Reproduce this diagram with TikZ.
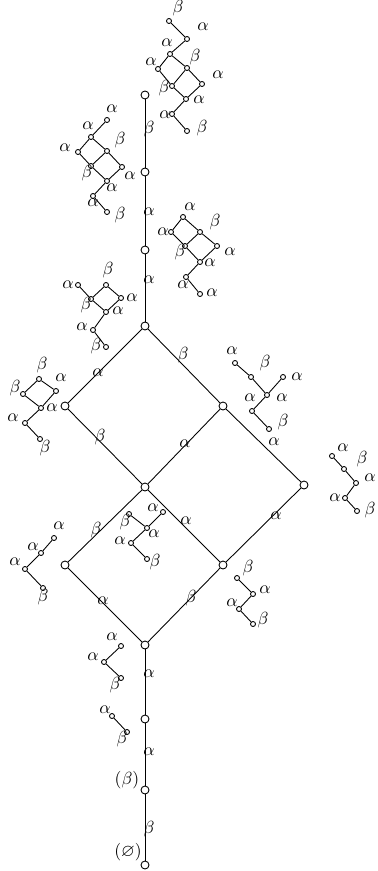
\documentclass[tikz,border=0pt]{standalone}
\usepackage{amssymb}
\usepackage{tikz}

\begin{document}
\begin{tikzpicture}[x = 0.02cm, y = -0.02cm, line width = 0.5pt,
  vertice/.style = {circle,draw,inner sep=0pt,minimum size=0.16cm},
  ponto/.style = {circle,draw,inner sep=0pt,minimum size=0.1cm},
  rotulo/.style = {inner sep=0pt,font=\normalsize},]

\useasboundingbox (0,0) rectangle (378,871);

% the lattice
\node[vertice] (Z) at (145,865) {};
\node[vertice] (B) at (145,790) {};
\node[vertice] (S2) at (145,719) {};
\node[vertice] (S3) at (145,645) {};
\node[vertice] (L1) at (65,565) {};
\node[vertice] (R1) at (223,565) {};
\node[vertice] (C) at (145,487) {};
\node[vertice] (F) at (304,485) {};
\node[vertice] (L2) at (65,406) {};
\node[vertice] (R2) at (223,406) {};
\node[vertice] (T) at (145,326) {};
\node[vertice] (U1) at (145,250) {};
\node[vertice] (U2) at (145,172) {};
\node[vertice] (U3) at (145,95) {};

\draw (Z) -- (B);
\draw (B) -- (S2);
\draw (S2) -- (S3);
\draw (S3) -- (L1);
\draw (S3) -- (R1);
\draw (L1) -- (C);
\draw (R1) -- (C);
\draw (R1) -- (F);
\draw (C) -- (L2);
\draw (C) -- (R2);
\draw (R2) -- (F);
\draw (L2) -- (T);
\draw (R2) -- (T);
\draw (T) -- (U1);
\draw (U1) -- (U2);
\draw (U2) -- (U3);

\node[rotulo] (nZ) at (128,852) {$(\varnothing)$};
\node[rotulo] (nB) at (127,780) {$(\beta)$};
\node[rotulo] (e1) at (149,829) {$\beta$};
\node[rotulo] (e2) at (149,752) {$\alpha$};
\node[rotulo] (e3) at (149,674) {$\alpha$};
\node[rotulo] (e4) at (103,601) {$\alpha$};
\node[rotulo] (e5) at (191,598) {$\beta$};
\node[rotulo] (e6) at (96,530) {$\beta$};
\node[rotulo] (e7) at (186,521) {$\alpha$};
\node[rotulo] (e8) at (276,516) {$\alpha$};
\node[rotulo] (e9) at (100,437) {$\beta$};
\node[rotulo] (e10) at (185,444) {$\alpha$};
\node[rotulo] (e11) at (274,442) {$\alpha$};
\node[rotulo] (e12) at (98,373) {$\alpha$};
\node[rotulo] (e13) at (183,355) {$\beta$};
\node[rotulo] (e14) at (149,280) {$\alpha$};
\node[rotulo] (e15) at (149,212) {$\alpha$};
\node[rotulo] (e16) at (149,129) {$\beta$};

% top module
\node[ponto] (a1) at (169,21) {};
\node[ponto] (a2) at (187,39) {};
\node[ponto] (a3) at (170,54) {};
\node[ponto] (a4) at (158,69) {};
\node[ponto] (a5) at (187,68) {};
\node[ponto] (a6) at (202,84) {};
\node[ponto] (a7) at (172,86) {};
\node[ponto] (a8) at (186,99) {};
\node[ponto] (a9) at (172,114) {};
\node[ponto] (a10) at (187,131) {};
\draw (a1) -- (a2);
\draw (a2) -- (a3);
\draw (a3) -- (a4);
\draw (a3) -- (a5);
\draw (a4) -- (a7);
\draw (a5) -- (a7);
\draw (a5) -- (a6);
\draw (a7) -- (a8);
\draw (a6) -- (a8);
\draw (a8) -- (a9);
\draw (a9) -- (a10);
\node[rotulo] (la1) at (178,8) {$\beta$};
\node[rotulo] (la2) at (203,27) {$\alpha$};
\node[rotulo] (la3) at (167,43) {$\alpha$};
\node[rotulo] (la4) at (151,62) {$\alpha$};
\node[rotulo] (la5) at (195,57) {$\beta$};
\node[rotulo] (la6) at (218,75) {$\alpha$};
\node[rotulo] (la7) at (164,88) {$\beta$};
\node[rotulo] (la8) at (199,100) {$\alpha$};
\node[rotulo] (la9) at (165,115) {$\alpha$};
\node[rotulo] (la10) at (202,128) {$\beta$};

% second module
\node[ponto] (b1) at (107,120) {};
\node[ponto] (b2) at (91,137) {};
\node[ponto] (b3) at (78,152) {};
\node[ponto] (b4) at (107,151) {};
\node[ponto] (b5) at (91,166) {};
\node[ponto] (b6) at (122,167) {};
\node[ponto] (b7) at (107,181) {};
\node[ponto] (b8) at (93,196) {};
\node[ponto] (b9) at (107,212) {};
\draw (b1) -- (b2);
\draw (b2) -- (b3);
\draw (b2) -- (b4);
\draw (b3) -- (b5);
\draw (b4) -- (b5);
\draw (b4) -- (b6);
\draw (b5) -- (b7);
\draw (b6) -- (b7);
\draw (b7) -- (b8);
\draw (b8) -- (b9);
\node[rotulo] (lb1) at (112,109) {$\alpha$};
\node[rotulo] (lb2) at (88,126) {$\alpha$};
\node[rotulo] (lb3) at (65,148) {$\alpha$};
\node[rotulo] (lb4) at (120,140) {$\beta$};
\node[rotulo] (lb5) at (87,173) {$\beta$};
\node[rotulo] (lb6) at (130,176) {$\alpha$};
\node[rotulo] (lb7) at (112,188) {$\alpha$};
\node[rotulo] (lb8) at (93,203) {$\alpha$};
\node[rotulo] (lb9) at (120,215) {$\beta$};

% third module
\node[ponto] (c1) at (183,217) {};
\node[ponto] (c2) at (171,232) {};
\node[ponto] (c3) at (200,232) {};
\node[ponto] (c4) at (185,246) {};
\node[ponto] (c5) at (217,246) {};
\node[ponto] (c6) at (200,262) {};
\node[ponto] (c7) at (186,277) {};
\node[ponto] (c8) at (200,294) {};
\draw (c1) -- (c2);
\draw (c1) -- (c3);
\draw (c2) -- (c4);
\draw (c3) -- (c4);
\draw (c3) -- (c5);
\draw (c4) -- (c6);
\draw (c5) -- (c6);
\draw (c6) -- (c7);
\draw (c7) -- (c8);
\node[rotulo] (lc1) at (190,207) {$\alpha$};
\node[rotulo] (lc2) at (163,232) {$\alpha$};
\node[rotulo] (lc3) at (215,222) {$\beta$};
\node[rotulo] (lc4) at (180,252) {$\beta$};
\node[rotulo] (lc5) at (230,252) {$\alpha$};
\node[rotulo] (lc6) at (210,263) {$\alpha$};
\node[rotulo] (lc7) at (183,285) {$\alpha$};
\node[rotulo] (lc8) at (212,293) {$\alpha$};

% fourth module
\node[ponto] (d1) at (78,285) {};
\node[ponto] (d2) at (106,285) {};
\node[ponto] (d3) at (91,299) {};
\node[ponto] (d4) at (121,298) {};
\node[ponto] (d5) at (106,312) {};
\node[ponto] (d6) at (93,330) {};
\node[ponto] (d7) at (106,347) {};
\draw (d1) -- (d3);
\draw (d2) -- (d3);
\draw (d2) -- (d4);
\draw (d3) -- (d5);
\draw (d4) -- (d5);
\draw (d5) -- (d6);
\draw (d6) -- (d7);
\node[rotulo] (ld1) at (68,285) {$\alpha$};
\node[rotulo] (ld2) at (108,270) {$\beta$};
\node[rotulo] (ld3) at (86,305) {$\beta$};
\node[rotulo] (ld4) at (132,298) {$\alpha$};
\node[rotulo] (ld5) at (118,311) {$\alpha$};
\node[rotulo] (ld6) at (82,327) {$\alpha$};
\node[rotulo] (ld7) at (96,346) {$\beta$};

% left module
\node[ponto] (g1) at (39,379) {};
\node[ponto] (g2) at (23,394) {};
\node[ponto] (g3) at (56,391) {};
\node[ponto] (g4) at (41,408) {};
\node[ponto] (g5) at (25,423) {};
\node[ponto] (g6) at (40,439) {};
\draw (g1) -- (g2);
\draw (g1) -- (g3);
\draw (g2) -- (g4);
\draw (g3) -- (g4);
\draw (g4) -- (g5);
\draw (g5) -- (g6);
\node[rotulo] (lg1) at (42,365) {$\beta$};
\node[rotulo] (lg2) at (15,388) {$\beta$};
\node[rotulo] (lg3) at (61,378) {$\alpha$};
\node[rotulo] (lg4) at (52,408) {$\alpha$};
\node[rotulo] (lg5) at (13,418) {$\alpha$};
\node[rotulo] (lg6) at (45,448) {$\beta$};

% right upper module
\node[ponto] (f1) at (235,363) {};
\node[ponto] (f2) at (251,377) {};
\node[ponto] (f3) at (283,377) {};
\node[ponto] (f4) at (267,395) {};
\node[ponto] (f5) at (252,411) {};
\node[ponto] (f6) at (269,429) {};
\draw (f1) -- (f2);
\draw (f2) -- (f4);
\draw (f3) -- (f4);
\draw (f4) -- (f5);
\draw (f5) -- (f6);
\node[rotulo] (lf1) at (232,351) {$\alpha$};
\node[rotulo] (lf2) at (265,363) {$\beta$};
\node[rotulo] (lf3) at (297,377) {$\alpha$};
\node[rotulo] (lf4) at (282,398) {$\alpha$};
\node[rotulo] (lf5) at (250,398) {$\alpha$};
\node[rotulo] (lf6) at (283,422) {$\beta$};

% far right module
\node[ponto] (h1) at (332,456) {};
\node[ponto] (h2) at (344,469) {};
\node[ponto] (h3) at (356,483) {};
\node[ponto] (h4) at (345,498) {};
\node[ponto] (h5) at (357,511) {};
\draw (h1) -- (h2);
\draw (h2) -- (h3);
\draw (h3) -- (h4);
\draw (h4) -- (h5);
\node[rotulo] (lh1) at (343,448) {$\alpha$};
\node[rotulo] (lh2) at (362,459) {$\beta$};
\node[rotulo] (lh3) at (370,478) {$\alpha$};
\node[rotulo] (lh4) at (335,498) {$\alpha$};
\node[rotulo] (lh5) at (370,510) {$\beta$};

% inner module
\node[ponto] (i1) at (129,514) {};
\node[ponto] (i2) at (163,512) {};
\node[ponto] (i3) at (147,528) {};
\node[ponto] (i4) at (131,543) {};
\node[ponto] (i5) at (147,559) {};
\draw (i1) -- (i3);
\draw (i2) -- (i3);
\draw (i3) -- (i4);
\draw (i4) -- (i5);
\node[rotulo] (li1) at (125,522) {$\beta$};
\node[rotulo] (li2) at (153,508) {$\alpha$};
\node[rotulo] (li3) at (154,534) {$\alpha$};
\node[rotulo] (li4) at (120,541) {$\alpha$};
\node[rotulo] (li5) at (155,562) {$\beta$};

% lower left module
\node[ponto] (j1) at (54,538) {};
\node[ponto] (j2) at (41,553) {};
\node[ponto] (j3) at (25,569) {};
\node[ponto] (j4) at (43,588) {};
\draw (j1) -- (j2);
\draw (j2) -- (j3);
\draw (j3) -- (j4);
\node[rotulo] (lj1) at (59,526) {$\alpha$};
\node[rotulo] (lj2) at (33,547) {$\alpha$};
\node[rotulo] (lj3) at (15,562) {$\alpha$};
\node[rotulo] (lj4) at (43,597) {$\beta$};

% lower right module
\node[ponto] (k1) at (237,578) {};
\node[ponto] (k2) at (253,594) {};
\node[ponto] (k3) at (239,609) {};
\node[ponto] (k4) at (253,624) {};
\draw (k1) -- (k2);
\draw (k2) -- (k3);
\draw (k3) -- (k4);
\node[rotulo] (lk1) at (248,568) {$\beta$};
\node[rotulo] (lk2) at (265,590) {$\alpha$};
\node[rotulo] (lk3) at (232,603) {$\alpha$};
\node[rotulo] (lk4) at (263,620) {$\beta$};

% bottom modules
\node[ponto] (m1) at (121,646) {};
\node[ponto] (m2) at (104,662) {};
\node[ponto] (m3) at (121,678) {};
\draw (m1) -- (m2);
\draw (m2) -- (m3);
\node[rotulo] (lm1) at (112,637) {$\alpha$};
\node[rotulo] (lm2) at (93,657) {$\alpha$};
\node[rotulo] (lm3) at (115,685) {$\beta$};

\node[ponto] (p1) at (112,716) {};
\node[ponto] (p2) at (127,732) {};
\draw (p1) -- (p2);
\node[rotulo] (lp1) at (105,710) {$\alpha$};
\node[rotulo] (lp2) at (122,739) {$\beta$};

\end{tikzpicture}
\end{document}
